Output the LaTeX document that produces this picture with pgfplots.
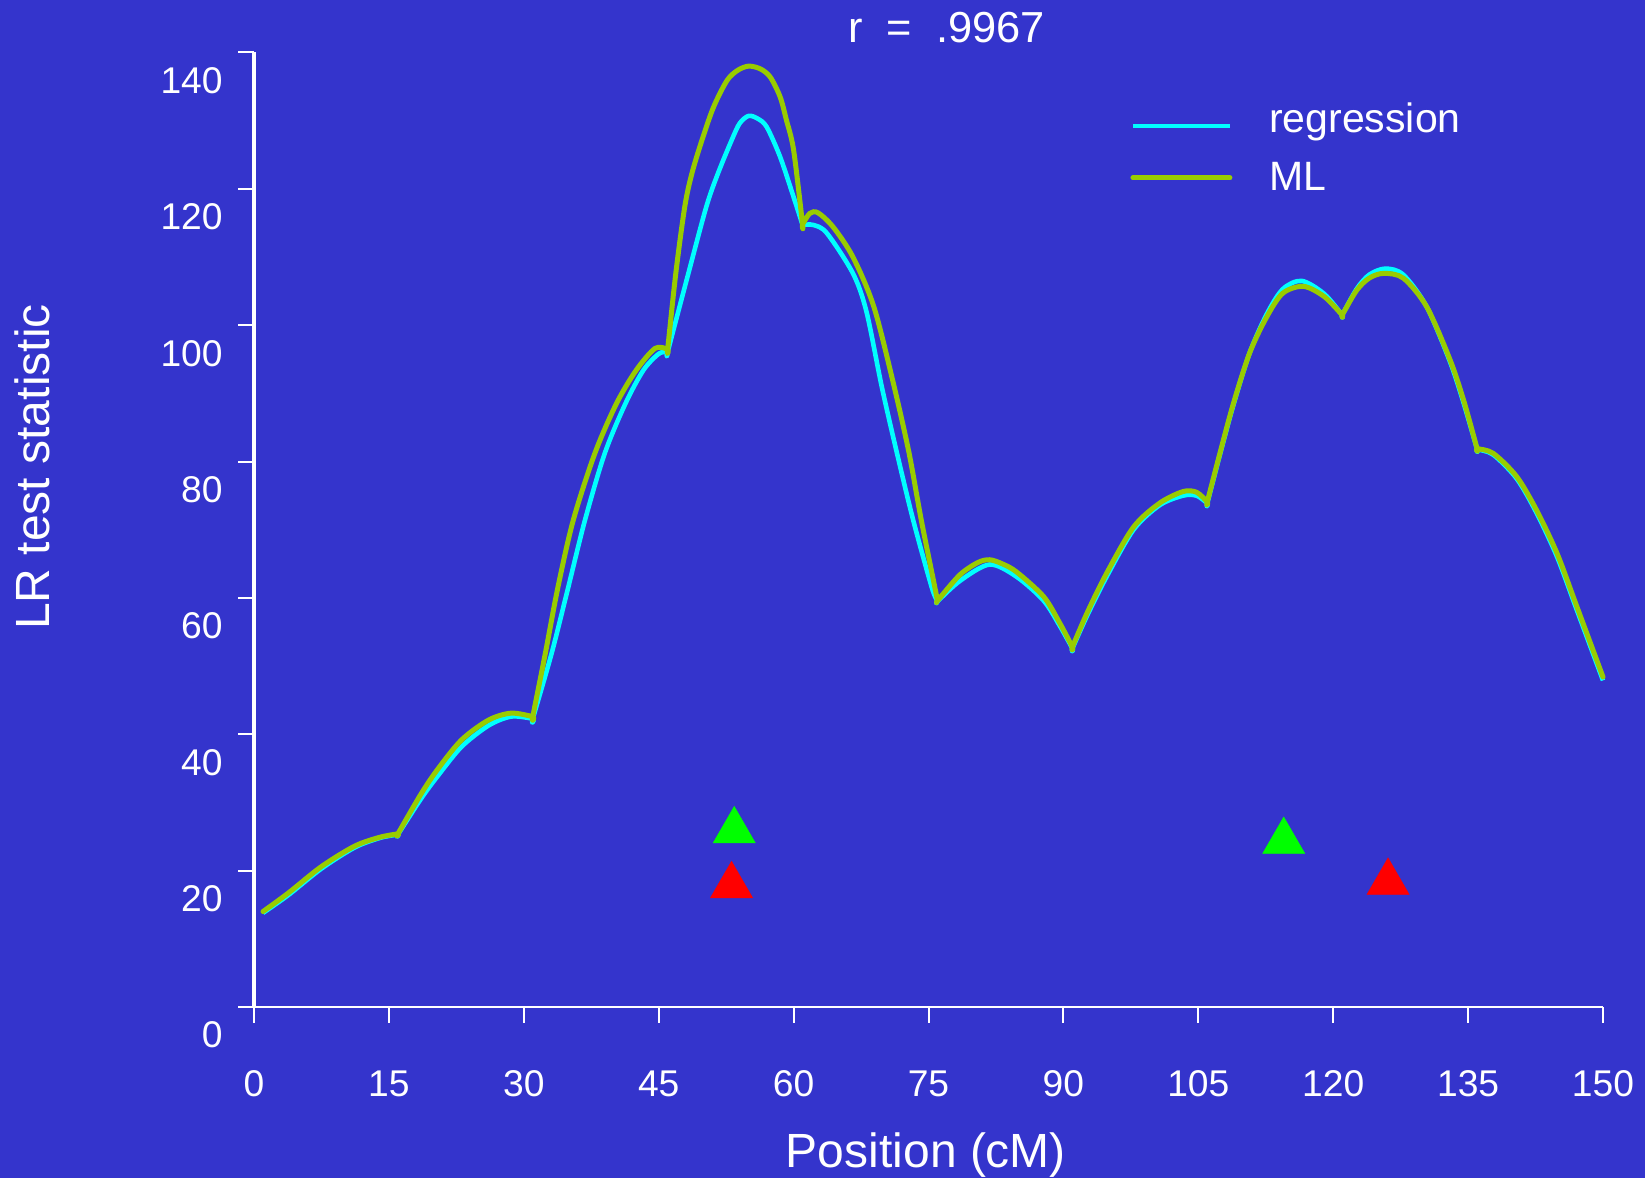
\documentclass[border=0pt]{standalone}
\usepackage{pgfplots}
\pgfplotsset{compat=1.18}
\usepackage{fontspec}
\setmainfont{Liberation Sans}
\definecolor{bg}{RGB}{52,52,204}
\definecolor{regcol}{RGB}{0,255,255}
\definecolor{mlcol}{RGB}{153,204,0}
\definecolor{trigreen}{RGB}{0,255,0}
\definecolor{trired}{RGB}{255,0,0}
% kink points (marker positions) are listed twice so that the smooth curve keeps its corners
\pgfplotstableread{
x y
1.0 13.8
3.8 16.4
7.5 20.3
11.2 23.4
14.0 24.8
16.0 25.3
16.0 25.3
18.6 30.6
20.5 34.0
23.1 38.2
26.1 41.3
28.6 42.6
31.0 42.3
31.0 42.3
33.1 51.9
34.95 61.6
36.8 71.4
39.0 81.2
41.3 88.5
43.3 93.4
45.0 95.8
46.0 96.1
46.0 96.1
48.3 107.6
50.3 117.4
51.6 122.3
53.1 127.1
54.0 129.6
55.0 130.7
56.0 130.3
57.0 129.1
58.5 124.7
60.0 118.8
61.0 114.7
61.0 114.7
62.2 114.7
63.7 113.5
66.6 107.6
68.1 102.0
69.8 91.0
71.5 81.2
73.3 71.4
75.35 61.6
76.0 59.5
76.0 59.5
78.5 62.5
81.8 64.9
84.8 63.1
87.8 59.6
89.6 55.9
91.0 52.6
91.0 52.6
92.6 57.3
94.8 63.1
97.8 70.0
100.7 73.6
103.3 75.0
104.8 75.0
106.0 73.9
106.0 73.9
107.4 81.0
108.9 88.3
110.7 95.9
112.6 101.6
114.4 105.3
116.5 106.5
119.0 104.6
121.0 101.5
121.0 101.5
122.6 105.3
124.0 107.4
125.8 108.3
127.8 107.4
130.4 102.7
133.0 94.6
134.5 88.6
136.0 81.8
136.0 81.8
137.8 81.0
140.4 77.5
142.6 72.5
144.9 66.0
147.1 58.2
150.0 47.9
}\regtable
\pgfplotstableread{
x y
1.0 14.0
3.8 16.7
7.5 20.6
11.2 23.6
14.0 24.9
16.0 25.4
16.0 25.4
18.6 31.3
20.5 35.0
23.1 39.2
26.1 42.1
28.6 43.1
31.0 42.6
31.0 42.6
32.4 51.9
33.8 61.6
35.5 71.4
37.9 81.2
40.3 88.5
42.5 93.4
44.6 96.6
46.0 96.5
46.0 96.5
46.9 107.6
47.9 117.4
48.7 122.3
49.8 127.1
51.1 132.0
52.6 135.9
53.8 137.4
55.0 138.0
56.3 137.6
57.4 136.4
58.5 133.5
59.2 130.1
60.0 125.7
61.0 114.8
61.0 114.8
61.8 116.4
62.7 116.5
64.4 114.4
66.6 110.0
68.9 102.8
71.0 92.0
72.8 81.5
74.2 71.4
75.7 61.6
76.0 59.6
76.0 59.6
78.5 63.4
80.5 65.2
81.8 65.6
83.2 65.0
84.8 63.8
87.8 60.2
89.6 56.3
91.0 52.8
91.0 52.8
92.6 57.7
94.8 63.6
97.8 70.4
100.7 73.9
103.3 75.6
104.8 75.5
106.0 74.1
106.0 74.1
107.4 81.2
108.9 88.5
110.7 95.9
112.6 101.2
114.4 104.7
116.7 105.7
119.0 104.2
121.0 101.5
121.0 101.5
122.6 105.1
124.0 106.9
125.6 107.6
127.8 106.9
130.4 102.7
133.0 94.9
134.5 89.0
136.0 81.9
136.0 81.9
137.8 81.2
140.4 77.8
142.6 72.9
144.9 66.5
147.1 58.7
150.0 48.4
}\mltable
\begin{document}
\begin{tikzpicture}
\path[fill=bg, use as bounding box] (-127pt,-85.5pt) rectangle (695.5pt,503.5pt);
\begin{axis}[
  at={(0pt,0pt)}, anchor=south west,
  scale only axis, width=674.5pt, height=477.25pt,
  xmin=0, xmax=150, ymin=0, ymax=140,
  axis lines=left,
  axis line style={-, white},
  x axis line style={line width=1pt},
  y axis line style={line width=1.8pt},
  xtick={0,15,...,150}, ytick={0,20,...,140},
  tick align=outside,
  major tick length=8pt,
  tick style={white, line width=1pt},
  /pgf/number format/assume math mode=true,
  tick label style={text=white, font=\fontsize{18.6}{22}\selectfont},
  yticklabel style={anchor=base east, inner sep=0pt, xshift=-7.5pt, yshift=-20.4pt},
  xticklabel style={anchor=base, inner sep=0pt, yshift=-36.85pt},
  clip=false,
  legend style={draw=none, fill=none, at={(0.6494,0.9478)}, anchor=north west,
    inner sep=0pt, column sep=18.4pt, row sep=6.4pt,
    nodes={inner sep=0pt, text=white, font=\fontsize{20.5}{24}\selectfont}},
  legend cell align=left,
  legend image code/.code={\draw[#1] (0pt,0pt) -- (48.5pt,0pt);},
]
\addplot[regcol, line width=2.3pt, line join=round, smooth, tension=0.5] table[x=x,y=y] {\regtable};
\addlegendentry[text depth=8.5pt]{regression}
\addplot[mlcol, line width=2.5pt, line join=round, line cap=round, smooth, tension=0.5] table[x=x,y=y] {\mltable};
\addlegendentry{ML}
\addplot[only marks, mark=triangle*, mark size=12.2pt, mark options={fill=trigreen, draw=trigreen, line width=0.2pt}, forget plot] coordinates {(53.4,25.85) (114.5,24.3)};
\addplot[only marks, mark=triangle*, mark size=12.2pt, mark options={fill=trired, draw=trired, line width=0.2pt}, forget plot] coordinates {(53.1,17.8) (126.1,18.3)};
\end{axis}
\node[anchor=base, text=white, font=\fontsize{21.7}{26}\selectfont] at (346.3pt,482.2pt) {r\ \ =\ \ .9967};
\node[anchor=base, rotate=90, text=white, font=\fontsize{24}{29}\selectfont] at (-102pt,270pt) {LR test statistic};
\node[anchor=base, text=white, font=\fontsize{24}{29}\selectfont] at (336pt,-80.3pt) {Position (cM)};
\end{tikzpicture}
\end{document}
